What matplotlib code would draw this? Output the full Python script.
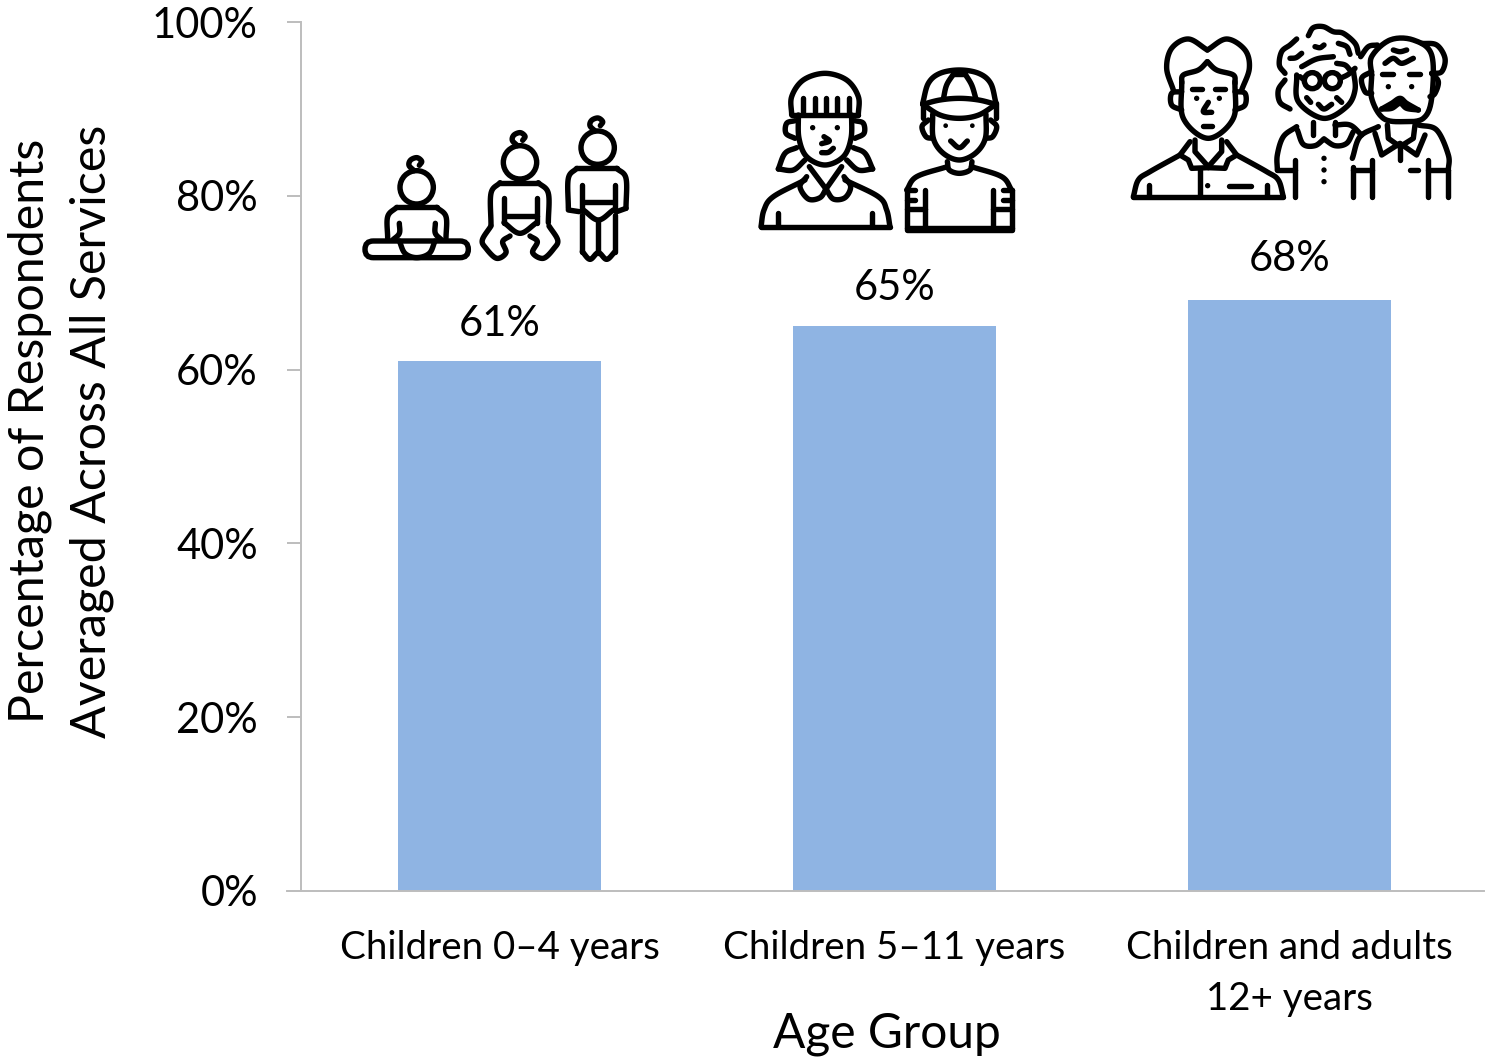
import numpy as np
import matplotlib
matplotlib.use("Agg")
import matplotlib.pyplot as plt
from matplotlib.patches import Circle, FancyBboxPatch

plt.rcParams['font.family'] = ['Lato', 'DejaVu Sans']

# Survey results
age_groups = ["Children 0–4 years", "Children 5–11 years", "Children and adults\n12+ years"]
percent_values = [61, 65, 68]
y_ticks = [0, 20, 40, 60, 80, 100]

W, H = 1485, 1058
BAR = "#8FB4E3"
GREY = "#BDBDBD"
TXT = "#000000"

fig = plt.figure(figsize=(W / 100, H / 100), dpi=100, facecolor="white")
ax = fig.add_axes([301 / W, 1 - 891 / H, 1183 / W, 869 / H])

x = np.arange(len(age_groups))
ax.bar(x, percent_values, width=0.516, color=BAR, linewidth=0, zorder=2)
ax.set_xlim(-0.5025, -0.5025 + 1183 / 395)
ax.set_ylim(0, 100)

ax.set_yticks(y_ticks)
ax.set_yticklabels([f"{v}%" for v in y_ticks])
ax.set_xticks(x)
ax.set_xticklabels(age_groups, linespacing=1.52)
ax.tick_params(axis="y", length=10, width=1.4, color=GREY, labelsize=30, pad=21, labelcolor=TXT)
ax.tick_params(axis="x", length=0, labelsize=27.7, pad=28, labelcolor=TXT)
for side in ("top", "right"):
    ax.spines[side].set_visible(False)
for side in ("left", "bottom"):
    ax.spines[side].set_color(GREY)
    ax.spines[side].set_linewidth(1.4)
ax.plot([-14 / 1183, 0], [0, 0], transform=ax.transAxes, color=GREY, lw=1.4, clip_on=False, zorder=3)

# Value labels sit a fixed distance above each bar, the last one a little higher
lifts = [26.5, 27.3, 29.3]
for xi, v, lift in zip(x, percent_values, lifts):
    ax.annotate(f"{v}%", (xi, v), xytext=(0, lift), textcoords="offset points",
                ha="center", va="center", fontsize=30, color=TXT)

ax.set_ylabel("Percentage of Respondents\nAveraged Across All Services", fontsize=34.8, linespacing=1.48, color=TXT)
ax.yaxis.set_label_coords((114 - 301) / 1183, (891 - 431) / 869)
ax.set_xlabel("Age Group", fontsize=34.5, color=TXT)
ax.xaxis.set_label_coords((887 - 301) / 1183, -(1034 - 891) / 869)
ax.xaxis.label.set_verticalalignment("center")

# Overlay in image pixels for the line-art figures above the bars
ov = fig.add_axes([0, 0, 1, 1], facecolor="none")
ov.set_xlim(0, W)
ov.set_ylim(H, 0)
ov.axis("off")
LW = 3.9


def spline(pts, n=14):
    """Catmull-Rom curve through the given points."""
    p = np.array(pts, float)
    p = np.vstack([2 * p[0] - p[1], p, 2 * p[-1] - p[-2]])
    out = []
    for i in range(1, len(p) - 2):
        for t in np.linspace(0, 1, n, endpoint=False):
            out.append(0.5 * ((2 * p[i]) + (p[i + 1] - p[i - 1]) * t
                              + (2 * p[i - 1] - 5 * p[i] + 4 * p[i + 1] - p[i + 2]) * t ** 2
                              + (3 * p[i] - p[i - 1] - 3 * p[i + 1] + p[i + 2]) * t ** 3))
    out.append(p[-2])
    return np.array(out)


class Icon:
    """Pen working in 3x-scaled coordinates relative to an origin."""

    def __init__(self, ox, oy):
        self.ox, self.oy = ox, oy

    def _draw(self, a, lw=LW):
        ov.plot(a[:, 0] / 3 + self.ox, a[:, 1] / 3 + self.oy, color="black", lw=lw,
                solid_capstyle="round", solid_joinstyle="round")

    def line(self, *pts, lw=LW):
        self._draw(np.array(pts, float), lw)

    def curve(self, *pts, lw=LW):
        self._draw(spline(pts), lw)

    def circle(self, cx, cy, r, lw=LW):
        ov.add_patch(Circle((cx / 3 + self.ox, cy / 3 + self.oy), r / 3, fill=False, ec="black", lw=lw))

    def dot(self, cx, cy, r=8):
        ov.add_patch(Circle((cx / 3 + self.ox, cy / 3 + self.oy), r / 3, fc="black", ec="none"))

    def round_box(self, x0, y0, x1, y1, r):
        ov.add_patch(FancyBboxPatch((x0 / 3 + self.ox + r / 3, y0 / 3 + self.oy + r / 3),
                                    (x1 - x0 - 2 * r) / 3, (y1 - y0 - 2 * r) / 3,
                                    boxstyle=f"round,pad={r / 3},rounding_size={r / 3}",
                                    fill=False, ec="black", lw=LW))

    def baby_head(self, cx, cy):
        self.circle(cx, cy, 50)
        self.curve((cx - 8, cy - 50), (cx - 23, cy - 66), (cx - 18, cy - 82), (cx + 1, cy - 89),
                   (cx + 15, cy - 78), (cx + 8, cy - 66))


# Three babies
b = Icon(350, 100)
b.baby_head(200, 262)
b.curve((113, 415), (113, 350), (140, 322))
b.line((140, 322), (260, 322))
b.curve((260, 322), (288, 350), (288, 415))
b.curve((148, 370), (148, 400), (128, 420))
b.curve((256, 370), (256, 400), (275, 420))
b.round_box(45, 423, 355, 473, 25)
b.curve((148, 423), (165, 460), (200, 473), (238, 460), (255, 423))

b.baby_head(510, 187)
b.curve((423, 375), (423, 280), (450, 248))
b.line((450, 248), (565, 248))
b.curve((565, 248), (595, 280), (595, 368))
b.line((463, 295), (463, 368))
b.line((562, 295), (562, 368))
b.line((465, 348), (560, 348))
b.curve((462, 368), (510, 400), (560, 368))
b.curve((423, 378), (397, 420), (408, 445), (440, 475), (468, 458), (458, 425), (480, 408))
b.curve((597, 378), (623, 420), (612, 445), (580, 475), (548, 458), (562, 425), (540, 408))

b.baby_head(743, 143)
b.curve((655, 325), (655, 235), (680, 205))
b.line((680, 205), (800, 205))
b.curve((800, 205), (828, 235), (828, 325))
b.line((655, 330), (688, 335))
b.line((828, 325), (800, 335))
b.line((696, 255), (696, 330))
b.line((795, 255), (795, 330))
b.line((700, 305), (790, 305))
b.curve((700, 330), (745, 360), (790, 330))
b.line((697, 345), (697, 455))
b.curve((697, 455), (720, 478), (745, 458), (770, 478), (795, 455))
b.line((795, 455), (795, 345))
b.line((745, 360), (745, 458))

# Girl and boy
g = Icon(750, 55)
g.curve((125, 180), (125, 125), (160, 75), (225, 55), (290, 75), (325, 125), (325, 180))
g.line((125, 180), (325, 180))
for fx in (160, 195, 228, 262, 297):
    g.line((fx, 128), (fx, 172))
g.curve((135, 197), (110, 205), (108, 235), (135, 250))
g.curve((315, 197), (340, 205), (342, 235), (315, 250))
g.curve((145, 180), (147, 250), (170, 305), (225, 330), (280, 305), (303, 250), (305, 180))
g.dot(188, 218)
g.dot(262, 218)
g.curve((222, 245), (238, 258), (215, 266))
g.curve((215, 293), (235, 292), (250, 280))
g.curve((140, 278), (105, 295), (85, 342))
g.curve((85, 342), (130, 345), (165, 315))
g.curve((310, 278), (345, 295), (368, 342))
g.curve((368, 342), (325, 345), (290, 315))
g.line((178, 335), (228, 402), (275, 335))
g.curve((170, 365), (150, 395), (175, 432), (210, 428), (228, 402))
g.curve((228, 402), (250, 432), (285, 428), (302, 395), (282, 365))
g.curve((165, 375), (70, 425), (42, 465), (33, 515))
g.curve((285, 375), (385, 425), (410, 465), (420, 515))
g.line((33, 515), (420, 515))
g.line((85, 475), (85, 510))
g.line((367, 475), (367, 510))

g.curve((518, 145), (535, 85), (570, 55), (628, 45), (686, 55), (722, 85), (738, 145))
g.curve((518, 148), (570, 180), (628, 190), (686, 180), (738, 148))
g.curve((518, 148), (570, 135), (628, 130), (686, 135), (738, 148))
g.curve((580, 132), (590, 90), (612, 55))
g.curve((678, 132), (665, 90), (644, 55))
g.line((610, 58), (645, 58))
g.line((518, 145), (518, 190))
g.line((738, 145), (738, 190))
g.curve((535, 195), (516, 215), (528, 245), (548, 250))
g.curve((722, 195), (740, 215), (728, 245), (708, 250))
g.curve((548, 178), (550, 250), (580, 295), (628, 315), (676, 295), (706, 250), (708, 178))
g.dot(587, 212, 7)
g.dot(667, 212, 7)
g.curve((602, 258), (628, 278), (652, 258))
g.curve((592, 320), (598, 345), (628, 355), (660, 345), (666, 320))
g.curve((592, 335), (500, 365), (470, 405))
g.curve((664, 335), (755, 365), (785, 405))
g.line((470, 405), (470, 525), (785, 525), (785, 405))
g.line((470, 520), (785, 520))
g.line((525, 405), (525, 520))
g.line((730, 405), (730, 520))
g.line((470, 405), (495, 405))
g.line((470, 435), (495, 435))
g.line((470, 462), (525, 462))
g.line((760, 405), (785, 405))
g.line((760, 435), (785, 435))
g.line((730, 462), (785, 462))

# Young man, older woman and older man
a = Icon(1120, 15)
a.curve((160, 225), (140, 160), (155, 100), (205, 72), (262, 105))
a.curve((262, 105), (320, 72), (375, 105), (388, 160), (365, 225))
a.curve((185, 205), (190, 180), (235, 165), (262, 140))
a.curve((262, 140), (290, 165), (340, 180), (345, 205))
a.curve((185, 200), (190, 310), (265, 370), (340, 310), (345, 200))
a.curve((185, 230), (155, 235), (155, 270), (185, 285))
a.curve((345, 230), (375, 235), (375, 270), (345, 285))
a.line((215, 222), (245, 222))
a.line((285, 222), (315, 222))
a.dot(230, 250)
a.dot(298, 250)
a.curve((265, 262), (250, 290), (275, 292))
a.line((250, 333), (275, 333))
a.line((225, 375), (225, 410), (265, 455), (305, 410), (305, 375))
a.line((210, 380), (180, 420), (205, 435), (215, 460), (265, 458))
a.line((320, 380), (350, 420), (325, 435), (315, 460), (265, 458))
a.curve((180, 420), (90, 470), (55, 495), (40, 545))
a.curve((350, 420), (440, 470), (475, 495), (490, 545))
a.line((40, 545), (490, 545))
a.line((240, 465), (240, 540))
a.dot(263, 512)
a.line((328, 514), (392, 514))
a.line((88, 510), (88, 540))
a.line((440, 510), (440, 540))

a.curve((510, 282), (480, 262), (475, 225), (495, 195))
a.curve((495, 175), (478, 150), (485, 110), (510, 90), (530, 72))
a.curve((565, 62), (580, 38), (610, 35), (640, 50), (670, 55), (705, 85), (715, 115))
a.curve((510, 130), (528, 128), (545, 115))
a.curve((585, 95), (600, 98), (612, 90))
a.curve((655, 85), (680, 95), (690, 118))
a.curve((545, 155), (590, 132), (640, 125))
a.curve((650, 145), (675, 150), (690, 165))
a.circle(577, 197, 24)
a.circle(637, 197, 24)
a.line((540, 185), (553, 195))
a.curve((661, 190), (685, 178), (705, 160))
a.curve((530, 180), (535, 260), (610, 310), (680, 275), (705, 225), (700, 165))
a.line((560, 248), (572, 262))
a.line((650, 248), (665, 262))
a.curve((595, 268), (612, 282), (635, 268))
a.line((580, 320), (580, 360))
a.line((645, 320), (645, 360))
a.curve((532, 345), (550, 388), (585, 392), (612, 372))
a.curve((612, 372), (645, 392), (680, 385), (700, 350))
a.curve((530, 335), (490, 365), (472, 420), (472, 465))
a.curve((645, 330), (690, 330), (725, 360))
a.line((472, 465), (525, 465))
a.line((525, 435), (525, 545))
for by in (430, 465, 500):
    a.dot(612, by)

a.curve((755, 180), (755, 250), (790, 310), (850, 320), (910, 310), (935, 250), (935, 120),
        (880, 75), (810, 75), (755, 125), (755, 180))
a.curve((722, 125), (745, 95), (772, 90))
a.curve((905, 85), (950, 90), (975, 130), (965, 170), (935, 175))
a.curve((755, 170), (725, 190), (735, 230), (755, 235))
a.curve((935, 175), (955, 200), (945, 235), (930, 245))
a.curve((795, 145), (820, 130), (845, 145), (880, 130))
a.curve((820, 105), (840, 110), (860, 105))
a.line((785, 178), (820, 178))
a.line((868, 178), (900, 178))
a.dot(805, 215)
a.dot(875, 215)
a.curve((785, 282), (815, 265), (840, 250), (860, 265), (895, 285))
a.curve((785, 282), (815, 280), (840, 265), (860, 280), (895, 285))
a.line((802, 330), (805, 370), (840, 395), (880, 370), (885, 330))
a.line((765, 355), (785, 420), (840, 385), (890, 420), (915, 360))
a.line((840, 390), (840, 435))
a.curve((775, 335), (720, 365), (697, 430))
a.curve((895, 330), (950, 345), (985, 420), (985, 465))
a.line((700, 455), (700, 545))
a.line((755, 435), (755, 545))
a.line((700, 465), (755, 465))
a.line((925, 435), (925, 545))
a.line((985, 465), (985, 545))
a.line((925, 465), (985, 465))
a.line((870, 466), (895, 466))

fig.savefig("out.png", dpi=100, facecolor="white")
